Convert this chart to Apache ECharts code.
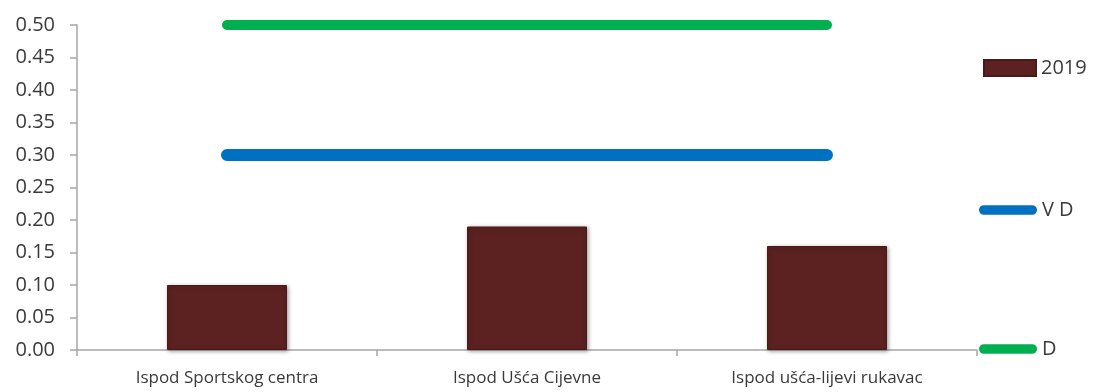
<!DOCTYPE html>
<html>
<head>
<meta charset="utf-8">
<script src="https://cdn.jsdelivr.net/npm/echarts@6/dist/echarts.min.js"></script>
<style>
  html, body { margin: 0; padding: 0; background: #fff; }
  #chart { width: 1093px; height: 392px; }
</style>
</head>
<body>
<div id="chart"></div>
<script>
// Sampling sites along the river
const categories = ['Ispod Sportskog centra', 'Ispod Ušća Cijevne', 'Ispod ušća-lijevi rukavac'];
// Measured values for 2019
const values2019 = [0.10, 0.19, 0.16];
// Limit lines
const limitVD = [0.30, 0.30, 0.30];
const limitD = [0.50, 0.50, 0.50];
// Value axis range
const yMin = 0, yMax = 0.5, yStep = 0.05;

const textColor = '#3a3a3a';
const font = 'Open Sans';
const roundBar = 'path://M5,0 H55 A5,5 0 0 1 55,10 H5 A5,5 0 0 1 5,0 Z';

const chart = echarts.init(document.getElementById('chart'));
chart.setOption({
  animation: false,
  backgroundColor: '#fff',
  grid: { left: 77, right: 116, top: 25, bottom: 42, containLabel: false },
  legend: [
    {
      data: [{ name: '2019', icon: 'rect' }],
      left: 983, top: 58, padding: 0,
      itemWidth: 52, itemHeight: 16,
      textStyle: { color: textColor, fontFamily: font, fontSize: 20 }
    },
    {
      data: [{ name: 'V D', icon: roundBar }],
      left: 979, top: 200, padding: 0,
      itemWidth: 58, itemHeight: 10,
      textStyle: { color: textColor, fontFamily: font, fontSize: 20 }
    },
    {
      data: [{ name: 'D', icon: roundBar }],
      left: 979, top: 339, padding: 0,
      itemWidth: 58, itemHeight: 10,
      textStyle: { color: textColor, fontFamily: font, fontSize: 20 }
    }
  ],
  xAxis: {
    type: 'category',
    data: categories,
    boundaryGap: true,
    axisLine: { lineStyle: { color: '#a6a6a6', width: 1.5 } },
    axisTick: { show: true, length: 6, lineStyle: { color: '#a6a6a6', width: 1.5 } },
    axisLabel: { color: textColor, fontFamily: font, fontSize: 17, margin: 20 }
  },
  yAxis: {
    type: 'value',
    min: yMin, max: yMax, interval: yStep,
    splitLine: { show: false },
    axisLine: { show: true, lineStyle: { color: '#a6a6a6', width: 1.5 } },
    axisTick: { show: true, length: 7, lineStyle: { color: '#a6a6a6', width: 1.5 } },
    axisLabel: {
      color: textColor, fontFamily: font, fontSize: 20, margin: 22,
      formatter: v => v.toFixed(2)
    }
  },
  series: [
    {
      name: '2019',
      type: 'bar',
      data: values2019,
      barWidth: 120,
      itemStyle: {
        color: '#5c2121',
        borderColor: '#4a1a1a',
        borderWidth: 1,
        shadowColor: 'rgba(0,0,0,0.35)',
        shadowBlur: 4,
        shadowOffsetX: 1,
        shadowOffsetY: 1
      },
      z: 2
    },
    {
      name: 'V D',
      type: 'line',
      data: limitVD,
      showSymbol: false,
      symbol: 'none',
      color: '#0070c0',
      lineStyle: { color: '#0070c0', width: 12, cap: 'round' },
      z: 3
    },
    {
      name: 'D',
      type: 'line',
      data: limitD,
      showSymbol: false,
      symbol: 'none',
      color: '#00b050',
      lineStyle: { color: '#00b050', width: 10, cap: 'round' },
      z: 3
    }
  ]
});
</script>
</body>
</html>
